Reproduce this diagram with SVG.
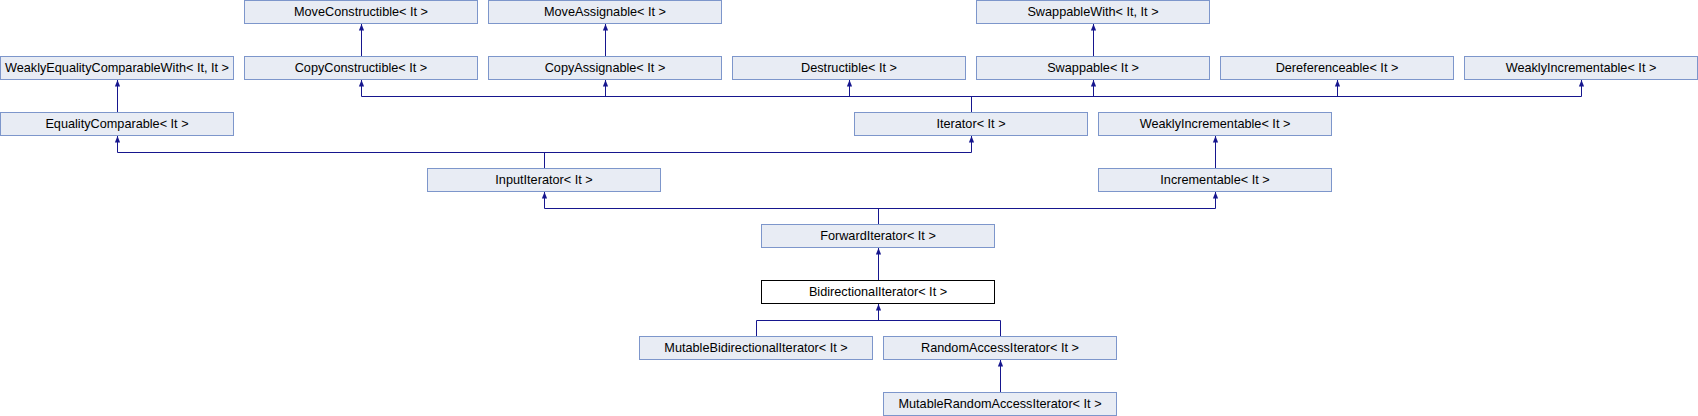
<svg xmlns="http://www.w3.org/2000/svg" xmlns:xlink="http://www.w3.org/1999/xlink" width="1698" height="416" viewBox="0 0 1698 416">
<style>
.n rect{fill:#E8ECF4;stroke:#7D96CB;stroke-width:1}
.n.cur rect{fill:#FFFFFF;stroke:#000000}
.n text{font-family:"Liberation Sans",Arial,sans-serif;font-size:12.7px;fill:#000000;text-anchor:middle}
.e path{fill:none;stroke:#16168E;stroke-width:1}
.e use{fill:#16168E}
</style>
<defs>
<path id="arr" d="M0,0 L-2.6,6.5 L2.6,6.5 Z"/>
</defs>
<rect width="1698" height="416" fill="#FFFFFF"/>
<g id="edges" class="e">
<path d="M361.5,56.5 V24"/>
<use href="#arr" x="361.5" y="24"/>
<path d="M605.5,56.5 V24"/>
<use href="#arr" x="605.5" y="24"/>
<path d="M1093.5,56.5 V24"/>
<use href="#arr" x="1093.5" y="24"/>
<path d="M117.5,112.5 V80"/>
<use href="#arr" x="117.5" y="80"/>
<path d="M971.5,112.5 V96.5 M361.5,96.5 H1581.5 M361.5,96.5 V80 M605.5,96.5 V80 M849.5,96.5 V80 M1093.5,96.5 V80 M1337.5,96.5 V80 M1581.5,96.5 V80"/>
<use href="#arr" x="361.5" y="80"/>
<use href="#arr" x="605.5" y="80"/>
<use href="#arr" x="849.5" y="80"/>
<use href="#arr" x="1093.5" y="80"/>
<use href="#arr" x="1337.5" y="80"/>
<use href="#arr" x="1581.5" y="80"/>
<path d="M1215.5,168.5 V136"/>
<use href="#arr" x="1215.5" y="136"/>
<path d="M544.5,168.5 V152.5 M117.5,152.5 H971.5 M117.5,152.5 V136 M971.5,152.5 V136"/>
<use href="#arr" x="117.5" y="136"/>
<use href="#arr" x="971.5" y="136"/>
<path d="M878.5,224.5 V208.5 M544.5,208.5 H1215.5 M544.5,208.5 V192 M1215.5,208.5 V192"/>
<use href="#arr" x="544.5" y="192"/>
<use href="#arr" x="1215.5" y="192"/>
<path d="M878.5,280.5 V248"/>
<use href="#arr" x="878.5" y="248"/>
<path d="M756.5,336.5 V320.5 M1000.5,336.5 V320.5 M756.5,320.5 H1000.5 M878.5,320.5 V304"/>
<use href="#arr" x="878.5" y="304"/>
<path d="M1000.5,392.5 V360"/>
<use href="#arr" x="1000.5" y="360"/>
</g>
<g id="MoveConstructible" class="n"><rect x="244.5" y="0.5" width="233" height="23"/><text x="361" y="16">MoveConstructible&lt; It &gt;</text></g>
<g id="MoveAssignable" class="n"><rect x="488.5" y="0.5" width="233" height="23"/><text x="605" y="16">MoveAssignable&lt; It &gt;</text></g>
<g id="SwappableWith" class="n"><rect x="976.5" y="0.5" width="233" height="23"/><text x="1093" y="16">SwappableWith&lt; It, It &gt;</text></g>
<g id="WeaklyEqualityComparableWith" class="n"><rect x="0.5" y="56.5" width="233" height="23"/><text x="117" y="72">WeaklyEqualityComparableWith&lt; It, It &gt;</text></g>
<g id="CopyConstructible" class="n"><rect x="244.5" y="56.5" width="233" height="23"/><text x="361" y="72">CopyConstructible&lt; It &gt;</text></g>
<g id="CopyAssignable" class="n"><rect x="488.5" y="56.5" width="233" height="23"/><text x="605" y="72">CopyAssignable&lt; It &gt;</text></g>
<g id="Destructible" class="n"><rect x="732.5" y="56.5" width="233" height="23"/><text x="849" y="72">Destructible&lt; It &gt;</text></g>
<g id="Swappable" class="n"><rect x="976.5" y="56.5" width="233" height="23"/><text x="1093" y="72">Swappable&lt; It &gt;</text></g>
<g id="Dereferenceable" class="n"><rect x="1220.5" y="56.5" width="233" height="23"/><text x="1337" y="72">Dereferenceable&lt; It &gt;</text></g>
<g id="WeaklyIncrementable1" class="n"><rect x="1464.5" y="56.5" width="233" height="23"/><text x="1581" y="72">WeaklyIncrementable&lt; It &gt;</text></g>
<g id="EqualityComparable" class="n"><rect x="0.5" y="112.5" width="233" height="23"/><text x="117" y="128">EqualityComparable&lt; It &gt;</text></g>
<g id="Iterator" class="n"><rect x="854.5" y="112.5" width="233" height="23"/><text x="971" y="128">Iterator&lt; It &gt;</text></g>
<g id="WeaklyIncrementable2" class="n"><rect x="1098.5" y="112.5" width="233" height="23"/><text x="1215" y="128">WeaklyIncrementable&lt; It &gt;</text></g>
<g id="InputIterator" class="n"><rect x="427.5" y="168.5" width="233" height="23"/><text x="544" y="184">InputIterator&lt; It &gt;</text></g>
<g id="Incrementable" class="n"><rect x="1098.5" y="168.5" width="233" height="23"/><text x="1215" y="184">Incrementable&lt; It &gt;</text></g>
<g id="ForwardIterator" class="n"><rect x="761.5" y="224.5" width="233" height="23"/><text x="878" y="240">ForwardIterator&lt; It &gt;</text></g>
<g id="BidirectionalIterator" class="n cur"><rect x="761.5" y="280.5" width="233" height="23"/><text x="878" y="296">BidirectionalIterator&lt; It &gt;</text></g>
<g id="MutableBidirectionalIterator" class="n"><rect x="639.5" y="336.5" width="233" height="23"/><text x="756" y="352">MutableBidirectionalIterator&lt; It &gt;</text></g>
<g id="RandomAccessIterator" class="n"><rect x="883.5" y="336.5" width="233" height="23"/><text x="1000" y="352">RandomAccessIterator&lt; It &gt;</text></g>
<g id="MutableRandomAccessIterator" class="n"><rect x="883.5" y="392.5" width="233" height="23"/><text x="1000" y="408">MutableRandomAccessIterator&lt; It &gt;</text></g>
</svg>
